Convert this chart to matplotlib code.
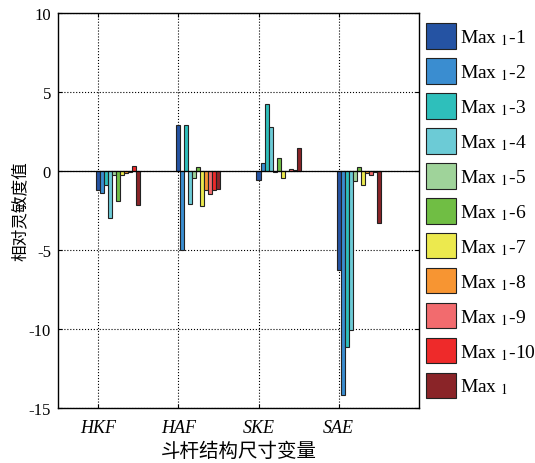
import matplotlib
matplotlib.use("Agg")
import matplotlib.pyplot as plt
import numpy as np

plt.rcParams['font.family'] = ['Liberation Serif', 'DejaVu Serif']
plt.rcParams['mathtext.fontset'] = 'stix'

groups = ['HKF', 'HAF', 'SKE', 'SAE']
series = ['Max ${}_1$-1', 'Max ${}_1$-2', 'Max ${}_1$-3', 'Max ${}_1$-4',
          'Max ${}_1$-5', 'Max ${}_1$-6', 'Max ${}_1$-7', 'Max ${}_1$-8',
          'Max ${}_1$-9', 'Max ${}_1$-10', 'Max ${}_1$']
colors = ['#2553a3', '#3a8dd0', '#2ebfbb', '#6ccbd6', '#9fd39a', '#70be44',
          '#ece94e', '#f79532', '#f26b6e', '#ee2a2a', '#8a2428']

# one list per group, one value per series
hkf = [-1.17, -1.42, -0.87, -3.0, -0.24, -1.87, -0.28, -0.15, -0.05, 0.31, -2.12]
haf = [2.91, -4.97, 2.91, -2.06, -0.45, 0.27, -2.22, -1.21, -1.48, -1.23, -1.12]
ske = [-0.58, 0.48, 4.25, 2.79, -0.05, 0.84, -0.43, 0.03, 0.1, 0.05, 1.46]
sae = [-6.29, -14.17, -11.15, -10.05, -0.66, 0.27, -0.89, -0.15, -0.24, -0.05, -3.3]
values = np.array([hkf, haf, ske, sae])

fig = plt.figure(figsize=(5.35, 4.64), dpi=100)
ax = fig.add_axes([0.1084, 0.1185, 0.6746, 0.8513])

x = np.arange(1, len(groups) + 1)
w = 0.05
for i, name in enumerate(series):
    ax.bar(x + i * w, values[:, i], width=w, color=colors[i],
           edgecolor='#222222', linewidth=0.8, label=name, zorder=3)

ax.axhline(0, color='black', linewidth=0.9, zorder=4)
ax.set_xlim(0.5, 5.0)
ax.set_ylim(-15, 10)
ax.set_xticks(x)
ax.set_xticklabels(groups, fontstyle='italic', fontsize=13)
ax.set_yticks([-15, -10, -5, 0, 5, 10])
ax.set_yticklabels(['-15', '-10', '-5', '0', '5', '10'], fontsize=12)
ax.tick_params(direction='in', top=True, right=True, length=3, width=0.8)
ax.tick_params(axis='x', pad=8)
ax.tick_params(axis='y', pad=5)
ax.grid(True, linestyle=':', color='black', linewidth=0.8, zorder=0)
for s in ax.spines.values():
    s.set_linewidth(1.0)

ax.set_xlabel('斗杆结构尺寸变量', family=['Noto Sans CJK SC'], fontsize=14, labelpad=3)
ax.set_ylabel('相对灵敏度值', family=['Noto Sans CJK SC'], fontsize=12, labelpad=0)

fig.legend(loc='upper left', bbox_to_anchor=(0.796, 0.948), frameon=False,
           fontsize=14, handlelength=1.55, handleheight=1.65, labelspacing=0.48,
           handletextpad=0.2, borderpad=0, borderaxespad=0)

fig.savefig('out.png', dpi=100)
